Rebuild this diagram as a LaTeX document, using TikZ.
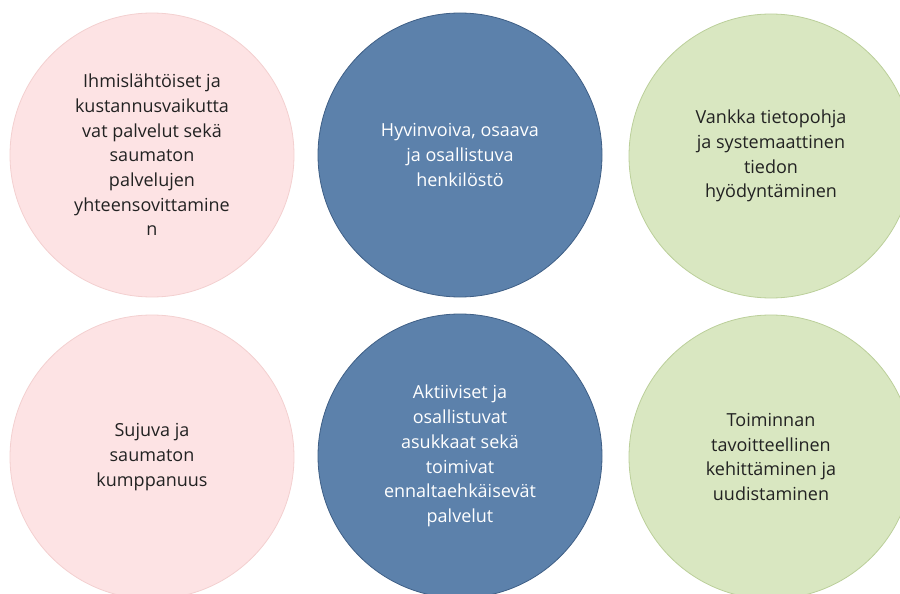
\documentclass[tikz,border=0pt]{standalone}
\usepackage{fontspec}
\setmainfont{Open Sans}
\definecolor{pinkfill}{HTML}{FDE3E4}
\definecolor{pinkline}{HTML}{F3D0D0}
\definecolor{bluefill}{HTML}{5C81AB}
\definecolor{blueline}{HTML}{3F5F86}
\definecolor{greenfill}{HTML}{D9E7C1}
\definecolor{greenline}{HTML}{BBCF9A}
\definecolor{darktext}{HTML}{222222}
\begin{document}
\begin{tikzpicture}[x=1pt,y=-1pt,
  bubble/.style={circle, minimum size=284pt, inner sep=0pt, line width=0.8pt,
    align=center, font=\fontsize{18}{24.7}\selectfont},
  pinkb/.style={bubble, fill=pinkfill, draw=pinkline, text=darktext},
  blueb/.style={bubble, fill=bluefill, draw=blueline, text=white},
  greenb/.style={bubble, fill=greenfill, draw=greenline, text=darktext}]
\useasboundingbox (0,0) rectangle (900,594);
\begin{scope}
\clip (0,0) rectangle (900,594);
\node[pinkb] (p1) at (152,155) {Ihmislähtöiset ja\\kustannusvaikutta\\vat palvelut sekä\\saumaton\\palvelujen\\yhteensovittamine\\n};
\node[blueb] (b1) at (460,155) {Hyvinvoiva, osaava\\ja osallistuva\\henkilöstö};
\node[greenb] (g1) at (771,156) {Vankka tietopohja\\ja systemaattinen\\tiedon\\hyödyntäminen};
\node[pinkb] (p2) at (152,457) {Sujuva ja\\saumaton\\kumppanuus};
\node[blueb] (b2) at (460,456) {Aktiiviset ja\\osallistuvat\\asukkaat sekä\\toimivat\\ennaltaehkäisevät\\palvelut};
\node[greenb] (g2) at (771,457) {Toiminnan\\tavoitteellinen\\kehittäminen ja\\uudistaminen};
\end{scope}
\end{tikzpicture}
\end{document}
